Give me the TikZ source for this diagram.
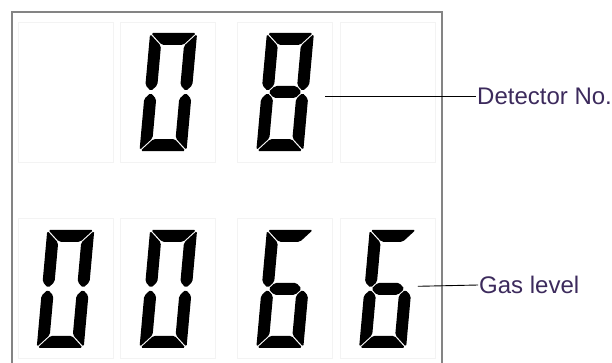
\documentclass[tikz,border=0pt]{standalone}
\usepackage{fontspec}
\setmainfont{Liberation Sans}
\usetikzlibrary{positioning,calc}

\definecolor{labeltext}{RGB}{60,42,92}
\definecolor{framegray}{RGB}{132,132,132}
\definecolor{cellgray}{RGB}{243,243,243}

% one slanted seven-segment digit, centred on a cell node
\newcommand{\lcddigit}[2]{%
  \begin{scope}[shift={(#1.center)}, xslant=0.09]
    \foreach \s in {#2} {\path[seg, seg \s];}
  \end{scope}}

\begin{document}
\begin{tikzpicture}[
        x=1pt, y=1pt,
        cell/.style={draw=cellgray, line width=0.8pt, minimum width=95pt, minimum height=140pt, inner sep=0pt},
        seg/.style={fill=black, rounded corners=1.8pt},
        lbl/.style={anchor=west, inner sep=1pt, text=labeltext, font=\fontsize{24}{28}\selectfont},
        leader/.style={draw, black, line width=0.9pt},
        seg a/.style={insert path={(-22.6,59) -- (22.6,59) -- (10.6,47) -- (-10.6,47) -- cycle}},
        seg d/.style={insert path={(-22.6,-59) -- (22.6,-59) -- (10.6,-47) -- (-10.6,-47) -- cycle}},
        seg g/.style={insert path={(-16.6,0) -- (-10.6,6) -- (10.6,6) -- (16.6,0) -- (10.6,-6) -- (-10.6,-6) -- cycle}},
        seg b/.style={insert path={(23.5,58.1) -- (23.5,6.9) -- (17.5,0.9) -- (11.5,6.9) -- (11.5,46.1) -- cycle}},
        seg f/.style={insert path={(-23.5,58.1) -- (-23.5,6.9) -- (-17.5,0.9) -- (-11.5,6.9) -- (-11.5,46.1) -- cycle}},
        seg c/.style={insert path={(23.5,-58.1) -- (23.5,-6.9) -- (17.5,-0.9) -- (11.5,-6.9) -- (11.5,-46.1) -- cycle}},
        seg e/.style={insert path={(-23.5,-58.1) -- (-23.5,-6.9) -- (-17.5,-0.9) -- (-11.5,-6.9) -- (-11.5,-46.1) -- cycle}}
    ]
        \useasboundingbox (0,0) rectangle (612,362);

        % Display frame
        \draw[framegray, line width=2.8pt] (12,-20) |- (442,350) -- (442,-20);

        % Digit cells (top row)
        \node (c1) [cell] at (65.5,270) {};
        \node (c2) [cell, right=7pt of c1] {};
        \node (c3) [cell, right=21pt of c2] {};
        \node (c4) [cell, right=7pt of c3] {};

        % Digit cells (bottom row)
        \node (d1) [cell, below=56pt of c1] {};
        \node (d2) [cell, below=56pt of c2] {};
        \node (d3) [cell, below=56pt of c3] {};
        \node (d4) [cell, below=56pt of c4] {};

        % Detector number
        \lcddigit{c2}{a,b,c,d,e,f}
        \lcddigit{c3}{a,b,c,d,e,f,g}

        % Gas level
        \lcddigit{d1}{a,b,c,d,e,f}
        \lcddigit{d2}{a,b,c,d,e,f}
        \lcddigit{d3}{a,c,d,e,f,g}
        \lcddigit{d4}{a,c,d,e,f,g}

        % Labels
        \node (detlbl) [lbl] at (476,266) {Detector No.};
        \node (gaslbl) [lbl] at (478,77) {Gas level};

        \coordinate (detfrom) at ($(c3.east)+(-8,-4)$);
        \coordinate (gasfrom) at ($(d4.east)+(-18,2.5)$);
        \draw [leader] (detfrom) -- (detlbl.west);
        \draw [leader] (gasfrom) -- (gaslbl.west);

    \end{tikzpicture}
\end{document}
